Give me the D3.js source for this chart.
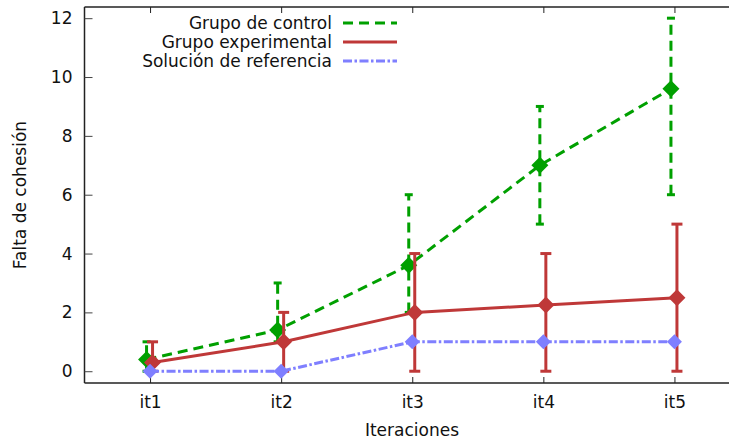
<!DOCTYPE html>
<html><head><meta charset="utf-8">
<script src="https://cdn.jsdelivr.net/npm/d3@7"></script>
<style>body{margin:0;background:#fff}svg{display:block;font-family:"DejaVu Sans",sans-serif}</style>
</head><body><svg id="c" width="729" height="441"></svg>
<script>
const categories = ["it1","it2","it3","it4","it5"];
const yTicks = [0,2,4,6,8,10,12];
const controlMean = [0.4,1.4,3.6,7.0,9.6];
const controlLow  = [0,1,2,5,6];
const controlHigh = [1,3,6,9,12];
const expMean = [0.3,1.0,2.0,2.25,2.5];
const expLow  = [0,0,0,0,0];
const expHigh = [1,2,4,4,5];
const refMean = [0,0,1,1,1];
const seriesNames = ["Grupo de control","Grupo experimental","Solución de referencia"];

const FS = 17;
const svg = d3.select("#c");
const x = d3.scaleLinear().domain([0.5,5.5]).range([84.5,740]);
const y = d3.scaleLinear().domain([-0.4,12.38]).range([383,7]);

const series = [
  {name:seriesNames[0], mean:controlMean, low:controlLow, high:controlHigh, color:"#00a000", dash:"10,6", off:-3.5, r:8.5, cap:4},
  {name:seriesNames[1], mean:expMean, low:expLow, high:expHigh, color:"#bf3838", dash:null, off:2.5, r:8.5, cap:5.5},
  {name:seriesNames[2], mean:refMean, low:null, high:null, color:"#7f7fff", dash:"9,2.5,2.5,2.5", off:0, r:7.5, cap:0}
];

// frame
const frame = svg.append("g").attr("stroke","#222").attr("stroke-width",1.5).attr("fill","none");
frame.append("line").attr("x1",84.5).attr("x2",84.5).attr("y1",7).attr("y2",383);
frame.append("line").attr("x1",84.5).attr("x2",729).attr("y1",7).attr("y2",7);
frame.append("line").attr("x1",84.5).attr("x2",729).attr("y1",383).attr("y2",383);

// y axis ticks
const yAxis = d3.axisLeft(y).tickValues(yTicks).tickSize(-8).tickPadding(12);
const gy = svg.append("g").attr("transform","translate(84.5,0)").call(yAxis);
gy.select(".domain").remove();
gy.selectAll("line").attr("stroke","#444").attr("stroke-width",1);
gy.selectAll("text").attr("font-size",FS).attr("fill","#111").attr("font-family","DejaVu Sans");

// x axis ticks
const xAxis = d3.axisBottom(x).tickValues([1,2,3,4,5]).tickFormat((d,i)=>categories[i]).tickSize(-6).tickPadding(13);
const gx = svg.append("g").attr("transform","translate(0,383)").call(xAxis);
gx.select(".domain").remove();
gx.selectAll("line").attr("stroke","#222").attr("stroke-width",1);
gx.selectAll("text").attr("font-size",FS).attr("fill","#111").attr("font-family","DejaVu Sans");
const xTop = d3.axisTop(x).tickValues([1,2,3,4,5]).tickFormat("").tickSize(-6);
const gt = svg.append("g").attr("transform","translate(0,7)").call(xTop);
gt.select(".domain").remove();
gt.selectAll("line").attr("stroke","#222").attr("stroke-width",1);

// axis titles
svg.append("text").attr("x",412).attr("y",430).attr("text-anchor","middle").attr("dominant-baseline","central")
  .attr("font-size",FS).attr("fill","#111").text("Iteraciones");
svg.append("text").attr("transform","translate(20,195) rotate(-90)").attr("text-anchor","middle").attr("dominant-baseline","central")
  .attr("font-size",FS).attr("fill","#111").text("Falta de cohesión");

const diamond = r => `M0,${-r}L${r},0L0,${r}L${-r},0Z`;

series.forEach(s => {
  const g = svg.append("g");
  const px = i => x(i+1) + s.off;
  const line = d3.line().x((d,i)=>px(i)).y(d=>y(d));
  g.append("path").datum(s.mean).attr("d",line).attr("fill","none").attr("stroke",s.color)
    .attr("stroke-width",3).attr("stroke-dasharray",s.dash);
  if (s.low) {
    s.mean.forEach((m,i) => {
      g.append("line").attr("x1",px(i)).attr("x2",px(i)).attr("y1",y(s.low[i])).attr("y2",y(s.high[i]))
        .attr("stroke",s.color).attr("stroke-width",3).attr("stroke-dasharray",s.dash);
      [s.low[i], s.high[i]].forEach(v => {
        g.append("line").attr("x1",px(i)-s.cap).attr("x2",px(i)+s.cap).attr("y1",y(v)).attr("y2",y(v))
          .attr("stroke",s.color).attr("stroke-width",3);
      });
    });
  }
  g.selectAll("path.m").data(s.mean).join("path").attr("class","m")
    .attr("d",diamond(s.r)).attr("transform",(d,i)=>`translate(${px(i)},${y(d)})`).attr("fill",s.color);
});

// legend
const legY = [23,42,61];
series.forEach((s,i) => {
  svg.append("text").attr("x",332).attr("y",legY[i]).attr("text-anchor","end").attr("dominant-baseline","central")
    .attr("font-size",FS).attr("fill","#111").text(s.name);
  svg.append("line").attr("x1",343).attr("x2",397).attr("y1",legY[i]).attr("y2",legY[i])
    .attr("stroke",s.color).attr("stroke-width",3).attr("stroke-dasharray",s.dash);
});
</script></body></html>
